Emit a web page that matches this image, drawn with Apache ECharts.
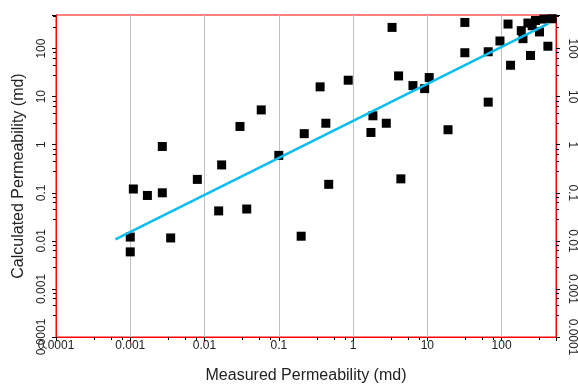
<!DOCTYPE html>
<html>
<head>
<meta charset="utf-8">
<script src="https://cdn.jsdelivr.net/npm/echarts@6/dist/echarts.min.js"></script>
<style>
  html, body { margin: 0; padding: 0; background: #fff; }
  #chart { width: 578px; height: 389px; }
</style>
</head>
<body>
<div id="chart"></div>
<script>
// measured vs calculated permeability (md)
const measured = [
  0.0011, 0.0017, 0.0027, 0.0027, 0.001, 0.001, 0.0035, 0.008, 0.017, 0.0155,
  0.030, 0.037, 0.058, 0.10, 0.20, 0.22, 0.43, 0.47, 0.36, 0.86,
  1.85, 1.74, 2.8, 3.35, 4.1, 4.4, 6.4, 10.6, 9.2, 19,
  66, 32, 32, 66, 95, 122, 132, 245, 420, 184,
  194, 226, 286, 324, 371, 479, 258
];
const calculated = [
  0.12, 0.088, 0.10, 0.92, 0.012, 0.0059, 0.0115, 0.19, 0.38, 0.042,
  2.4, 0.046, 5.3, 0.6, 0.0125, 1.7, 2.8, 0.15, 16, 22,
  4.0, 1.8, 2.8, 276, 27, 0.195, 17, 25, 14.7, 2.05,
  7.7, 350, 82, 86, 144, 324, 45, 72, 112, 236,
  161, 340, 385, 222, 411, 417, 299
];

// fitted trend line end points
const fitX = [0.00063, 425];
const fitY = [0.0107, 330];

const tickLabels = ['0.0001', '0.001', '0.01', '0.1', '1', '10', '100'];

const points = measured.map((m, i) => [m, calculated[i]]);
const fitLine = fitX.map((v, i) => [v, fitY[i]]);

function decadeLabel(v) {
  const e = Math.log10(v);
  const r = Math.round(e);
  if (Math.abs(e - r) > 1e-6) return '';
  const idx = r + 4;
  return tickLabels[idx] || '';
}

const font = 'Liberation Sans, Arial, sans-serif';

const chart = echarts.init(document.getElementById('chart'));

const yCommon = {
  type: 'log',
  min: 0.0001,
  max: 500,
  axisLine: { show: true, lineStyle: { color: '#ff0000', width: 1 } },
  axisTick: { show: true, length: 4, lineStyle: { color: '#000' } },
  minorTick: { show: true, splitNumber: 5, length: 3, lineStyle: { color: '#000' } },
  splitLine: { show: false },
};

chart.setOption({
  animation: false,
  backgroundColor: '#fff',
  grid: {
    left: 56,
    right: 19,
    top: 15,
    bottom: 50,
    show: true,
    borderColor: '#ff0000',
    borderWidth: 1,
  },
  xAxis: {
    type: 'log',
    min: 0.0001,
    max: 540,
    name: 'Measured Permeability (md)',
    nameLocation: 'middle',
    nameGap: 31,
    nameTextStyle: { fontFamily: font, fontSize: 16, color: '#222' },
    axisLine: { show: true, lineStyle: { color: '#ff0000', width: 1 } },
    axisTick: { show: true, length: 4, lineStyle: { color: '#000' } },
    minorTick: { show: true, splitNumber: 4, length: 3, lineStyle: { color: '#000' } },
    splitLine: { show: true, lineStyle: { color: '#c0c0c0', width: 1 } },
    axisLabel: {
      margin: 3,
      fontFamily: font,
      fontSize: 12,
      color: '#222',
      formatter: decadeLabel,
    },
  },
  yAxis: [
    Object.assign({}, yCommon, {
      position: 'left',
      name: 'Calculated Permeability (md)',
      nameLocation: 'middle',
      nameGap: 29,
      nameTextStyle: { fontFamily: font, fontSize: 16, color: '#222' },
      axisLabel: {
        rotate: 90,
        margin: 8,
        fontFamily: font,
        fontSize: 12,
        color: '#222',
        formatter: decadeLabel,
      },
    }),
    Object.assign({}, yCommon, {
      position: 'right',
      axisLabel: {
        rotate: -90,
        margin: 10,
        fontFamily: font,
        fontSize: 12,
        color: '#222',
        formatter: decadeLabel,
      },
    }),
  ],
  series: [
    {
      type: 'scatter',
      yAxisIndex: 0,
      data: points,
      symbol: 'rect',
      symbolSize: 9,
      itemStyle: { color: '#000', opacity: 1 },
      z: 2,
    },
    {
      type: 'line',
      yAxisIndex: 0,
      data: fitLine,
      showSymbol: false,
      symbol: 'none',
      lineStyle: { color: '#0bbdee', width: 2.5 },
      z: 3,
    },
  ],
});
</script>
</body>
</html>
